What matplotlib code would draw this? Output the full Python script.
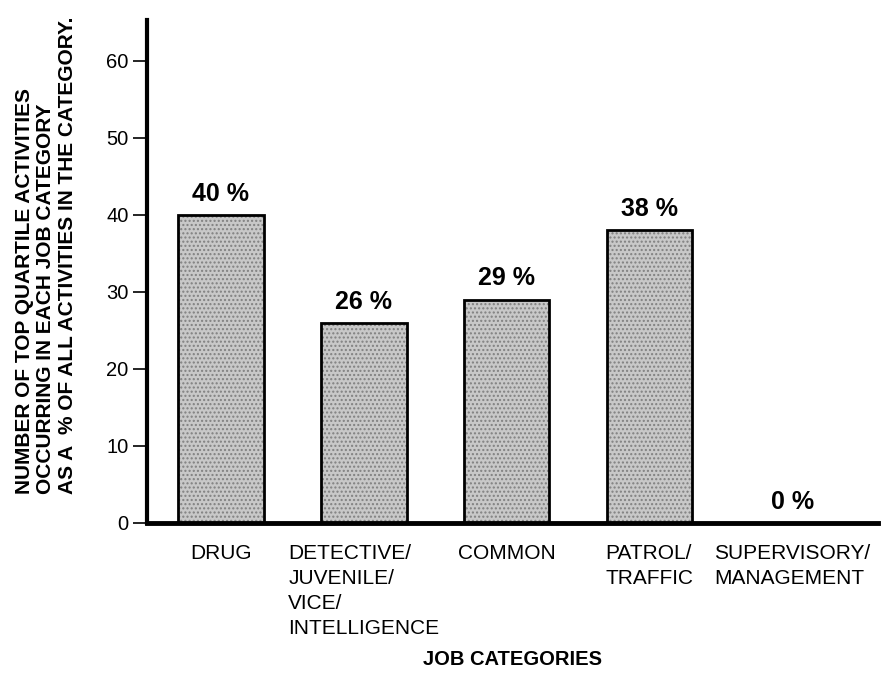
import matplotlib.pyplot as plt

plt.rcParams['font.family'] = ['Liberation Sans', 'DejaVu Sans']

categories = ["DRUG", "DETECTIVE/\nJUVENILE/\nVICE/\nINTELLIGENCE", "COMMON",
              "PATROL/\nTRAFFIC", "SUPERVISORY/\nMANAGEMENT"]
values = [40, 26, 29, 38, 0]
value_labels = ["40 %", "26 %", "29 %", "38 %", "0 %"]
yticks = [0, 10, 20, 30, 40, 50, 60]

fig = plt.figure(figsize=(8.84, 6.73), dpi=100)
ax = fig.add_axes([0.166, 0.223, 0.827, 0.747])

x = list(range(len(categories)))
# stippled fill, then the outline on top
ax.bar(x, values, width=0.6, color="#c8c8c8", hatch="....", edgecolor="#808080", linewidth=0, zorder=2)
ax.bar(x, values, width=0.6, fill=False, edgecolor="black", linewidth=2, zorder=3)

for xi, v, lab in zip(x, values, value_labels):
    ax.text(xi, v + 1.2, lab, ha="center", va="bottom", fontsize=18, fontweight="bold")

ax.set_xlim(-0.52, 4.6)
ax.set_ylim(0, 65.3)
ax.set_yticks(yticks)
ax.set_xticks(x, categories)
for t in ax.get_xticklabels():
    t.set_multialignment("left")
    t.set_linespacing(1.4)
ax.tick_params(axis="x", length=0, labelsize=15, pad=15)
ax.tick_params(axis="y", length=10, width=1.2, labelsize=14.5, pad=3, direction="out")

for s in ["top", "right"]:
    ax.spines[s].set_visible(False)
ax.spines["left"].set_linewidth(3)
ax.spines["bottom"].set_linewidth(3.5)

ax.set_xlabel("JOB CATEGORIES", fontsize=14.5, fontweight="bold", labelpad=9)
fig.text(0.052, 0.62,
         "NUMBER OF TOP QUARTILE ACTIVITIES\nOCCURRING IN EACH JOB CATEGORY\nAS A  % OF ALL ACTIVITIES IN THE CATEGORY.",
         rotation=90, ha="center", va="center", fontsize=15, fontweight="bold",
         multialignment="left", linespacing=1.15)

plt.savefig("out.png", dpi=100)
